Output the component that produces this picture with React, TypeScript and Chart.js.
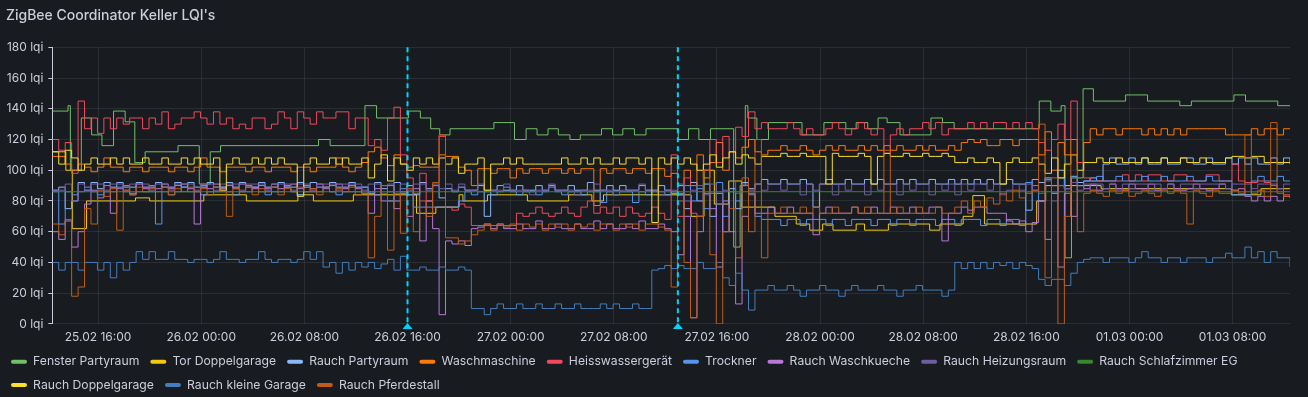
import React, { useEffect, useRef } from "react";
import { Chart, registerables } from "chart.js";

Chart.register(...registerables);

// ---- axis / time data (hours since 25.02 00:00) ----
const rangeStart = 12.45;
const rangeEnd = 108.45;
const gridStep = 0.5;
const xTickHours = [16, 24, 32, 40, 48, 56, 64, 72, 80, 88, 96, 104];
const xTickLabels = [
  "25.02 16:00", "26.02 00:00", "26.02 08:00", "26.02 16:00", "27.02 00:00", "27.02 08:00",
  "27.02 16:00", "28.02 00:00", "28.02 08:00", "28.02 16:00", "01.03 00:00", "01.03 08:00",
];
const annotationHours = [40.0, 60.97];

// ---- step series (change points) ----
const fensterT = [12.45, 13.67, 13.85, 14.7, 15.5, 16.3, 17.2, 18.1, 18.85, 19.65,
  22.2, 23.85, 24.7, 25.5, 33.1, 34.0, 36.7, 37.6, 40.07, 41.0,
  41.8, 42.5, 43.3, 46.7, 48.3, 49.2, 50.05, 50.9, 51.7, 52.6,
  53.4, 55.05, 55.9, 56.7, 57.6, 58.5, 61.0, 61.8, 62.6, 63.5,
  65.3, 65.8, 66.2, 66.4, 67.1, 68.0, 70.6, 72.3, 74.0, 74.8,
  75.7, 76.5, 77.2, 78.2, 80.6, 81.5, 82.4, 89.0, 89.9, 90.7,
  91.0, 91.5, 92.4, 93.2, 95.7, 97.4, 99.9, 100.8, 104.1, 105.0,
  107.5, 108.45];
const fensterV = [138.5, 142, 100, 134, 123, 116, 138.5, 131.5, 105, 112,
  116, 91, 112, 116, 120, 116, 142, 134, 138.5, 134,
  127, 123, 127, 131, 120, 127, 123, 127, 123, 120,
  123, 127, 123, 127, 123, 127, 120, 127, 120, 127,
  50, 90, 142, 134, 120, 131, 123, 131, 127, 131,
  127, 134, 131, 123, 134, 131, 127, 145, 138.5, 142,
  43, 95, 153, 145, 149, 145, 142, 145, 149, 145,
  142, 142];

const torT = [12.45, 13.5, 14.0, 15.1, 18.9, 20.0, 24.2, 27.5, 31.5, 32.7,
  35.8, 40.7, 42.2, 44.0, 44.3, 46.2, 49.3, 52.5, 54.3, 55.2,
  62.0, 63.0, 63.8, 64.9, 65.9, 68.5, 70.15, 71.2, 72.2, 73.0,
  74.8, 75.45, 77.3, 80.5, 81.3, 83.1, 83.85, 84.75, 88.8, 89.5,
  93.8, 103.9, 106.2, 108.45];
const torV = [112, 100, 62, 80, 82, 80, 84, 80, 84, 80,
  84, 72, 76, 84, 80, 84, 80, 84, 80, 84,
  70, 100, 78, 93, 76, 70, 65, 61, 65, 61,
  65, 61, 65, 61, 65, 70, 83.5, 65, 80, 90,
  88, 84, 88, 88];

const schlafT = [12.45, 108.45];
const schlafV = [86, 86];

// ---- dense series, one value per half hour from rangeStart ----
const heisswasser = [
  120, 113, 118, 98, 145, 127, 134, 124, 134, 127, 134, 130, 134, 134, 127, 134,
  130, 138, 127, 130, 134, 134, 138, 134, 130, 138, 130, 134, 127, 130, 127, 134,
  134, 127, 130, 138, 134, 127, 138, 134, 130, 138, 134, 134, 138, 138, 127, 134,
  134, 116, 120, 113, 134, 141, 110, 95, 85, 98, 80, 90, 122, 76, 74, 78,
  76, 64, 64, 64, 64, 64, 64, 64, 72, 70, 72, 76, 72, 70, 72, 76,
  72, 70, 76, 80, 72, 76, 72, 76, 70, 76, 72, 70, 72, 76, 72, 68,
  110, 70, 95, 72, 70, 100, 120, 105, 122, 112, 128, 122, 138, 127, 131, 127,
  127, 127, 131, 127, 123, 127, 123, 123, 127, 131, 127, 123, 127, 131, 127, 123,
  127, 111, 123, 127, 123, 127, 127, 131, 127, 131, 123, 127, 127, 127, 131, 127,
  131, 127, 131, 131, 127, 131, 127, 131, 127, 118, 113, 120, 130, 120, 145, 105,
  95, 93, 93, 93, 93, 93, 97, 93, 97, 93, 97, 97, 93, 93, 97, 97,
  93, 93, 93, 97, 97, 93, 93, 104, 93, 92, 92, 93, 92, 90, 88, 84,
  84,
];
const waschmaschine = [
  109, 109, 104, 100, 104, 102, 99, 102, 108, 102, 102, 99, 102, 102, 99, 102,
  102, 102, 99, 102, 102, 99, 102, 108, 102, 102, 99, 102, 102, 102, 99, 102,
  102, 99, 102, 102, 102, 99, 102, 102, 99, 102, 102, 102, 108, 102, 99, 102,
  105, 112, 115, 108, 103, 110, 104, 102, 103, 102, 102, 102, 110, 109, 109, 102,
  100, 90, 101, 101, 98, 101, 101, 95, 101, 98, 101, 101, 98, 101, 101, 98,
  101, 98, 101, 101, 77, 101, 98, 101, 101, 98, 101, 101, 98, 101, 101, 96,
  98, 85, 100, 90, 110, 95, 105, 118, 100, 112, 108, 115, 120, 112, 110, 113,
  113, 116, 113, 113, 116, 113, 110, 113, 116, 113, 116, 113, 113, 116, 113, 116,
  113, 116, 113, 116, 113, 113, 116, 113, 116, 113, 113, 116, 113, 118, 120, 118,
  120, 116, 116, 120, 120, 116, 120, 120, 120, 110, 125, 100, 118, 110, 120, 105,
  118, 127, 123, 127, 127, 123, 127, 127, 127, 123, 127, 123, 127, 123, 127, 123,
  127, 127, 127, 127, 127, 127, 123, 123, 123, 123, 127, 123, 127, 127, 123, 127,
  127,
];
const rauchDoppelgarage = [
  112, 104, 113, 108, 100, 104, 108, 104, 104, 108, 104, 108, 104, 104, 108, 104,
  104, 108, 104, 104, 108, 104, 108, 104, 104, 108, 87, 104, 108, 104, 104, 108,
  104, 108, 104, 108, 104, 104, 83, 104, 108, 104, 104, 108, 104, 108, 104, 104,
  108, 95, 104, 110, 93, 108, 104, 100, 108, 104, 108, 104, 108, 104, 108, 98,
  104, 104, 108, 87, 104, 104, 108, 104, 108, 104, 104, 104, 104, 104, 104, 108,
  104, 104, 108, 104, 108, 104, 104, 108, 104, 108, 108, 104, 108, 66, 108, 104,
  108, 104, 108, 104, 100, 104, 110, 102, 108, 112, 104, 110, 108, 104, 109, 109,
  109, 111, 109, 109, 111, 109, 109, 109, 91, 111, 109, 109, 109, 111, 109, 91,
  109, 111, 109, 109, 111, 109, 109, 111, 109, 109, 111, 109, 105, 105, 108, 105,
  105, 108, 105, 91, 105, 108, 105, 105, 108, 104, 98, 108, 95, 104, 110, 100,
  105, 105, 108, 105, 105, 108, 105, 105, 105, 108, 105, 105, 108, 105, 105, 108,
  105, 105, 108, 105, 105, 105, 108, 109, 109, 108, 109, 109, 105, 105, 105, 105,
  105,
];
const rauchPartyraum = [
  87, 89, 75, 80, 92, 87, 92, 88, 92, 89, 92, 89, 89, 92, 89, 89,
  92, 89, 89, 92, 89, 92, 89, 89, 92, 89, 89, 92, 89, 92, 89, 89,
  92, 89, 89, 92, 89, 89, 92, 89, 92, 89, 89, 92, 89, 89, 92, 89,
  89, 85, 92, 88, 80, 92, 86, 90, 84, 92, 88, 90, 82, 88, 86, 89,
  87, 87, 90, 70, 87, 90, 87, 87, 90, 87, 87, 90, 87, 90, 87, 87,
  90, 87, 87, 92, 87, 87, 90, 87, 90, 87, 87, 90, 87, 87, 90, 87,
  85, 90, 75, 92, 80, 91, 70, 85, 60, 88, 75, 92, 88, 91, 94, 91,
  91, 94, 91, 91, 94, 91, 76, 91, 94, 91, 91, 94, 91, 91, 94, 91,
  94, 91, 91, 94, 91, 94, 91, 91, 94, 91, 91, 94, 91, 94, 91, 94,
  91, 94, 91, 91, 94, 91, 91, 74, 94, 92, 95, 85, 100, 88, 96, 92,
  93, 95, 93, 104, 108, 104, 104, 108, 104, 108, 104, 104, 108, 104, 104, 108,
  108, 104, 104, 108, 104, 104, 108, 104, 108, 104, 108, 104, 104, 108, 104, 108,
  104,
];
const trockner = [
  86, 65, 86, 84, 86, 89, 86, 84, 86, 86, 89, 86, 84, 86, 86, 86,
  65, 86, 84, 86, 89, 86, 86, 84, 86, 86, 89, 86, 84, 86, 86, 89,
  86, 84, 86, 86, 89, 86, 84, 86, 86, 86, 89, 86, 84, 86, 86, 86,
  89, 86, 84, 90, 86, 80, 88, 84, 76, 76, 76, 76, 76, 76, 76, 80,
  86, 84, 86, 86, 84, 86, 89, 86, 84, 86, 86, 84, 86, 89, 86, 84,
  86, 86, 84, 86, 86, 79, 86, 84, 86, 86, 79, 86, 84, 86, 86, 84,
  86, 84, 90, 80, 88, 75, 85, 92, 70, 86, 80, 90, 84, 70, 68, 68,
  68, 64, 68, 68, 64, 68, 68, 68, 64, 68, 68, 64, 68, 68, 68, 64,
  68, 68, 64, 68, 68, 64, 68, 68, 68, 64, 68, 68, 64, 68, 68, 68,
  64, 68, 68, 64, 68, 68, 64, 92, 90, 80, 94, 85, 95, 88, 96, 90,
  93, 93, 96, 93, 93, 96, 93, 93, 93, 96, 93, 93, 96, 93, 93, 93,
  96, 93, 93, 96, 93, 93, 93, 84, 84, 84, 93, 96, 93, 93, 96, 93,
  93,
];
const rauchWaschkueche = [
  60, 55, 67, 50, 60, 78, 87, 82, 90, 72, 88, 90, 85, 91, 88, 90,
  88, 91, 88, 90, 91, 88, 65, 90, 88, 91, 88, 90, 88, 91, 90, 88,
  90, 88, 91, 88, 90, 91, 88, 90, 88, 91, 88, 90, 91, 88, 90, 88,
  85, 72, 88, 80, 90, 75, 85, 70, 88, 54, 80, 62, 6, 54, 52, 54,
  51, 62, 63, 65, 62, 65, 62, 62, 65, 62, 62, 67, 62, 62, 65, 62,
  62, 65, 62, 62, 67, 62, 65, 62, 62, 65, 62, 67, 62, 62, 65, 62,
  60, 45, 70, 4, 60, 85, 75, 37, 80, 60, 13, 70, 85, 72, 72, 76,
  72, 72, 76, 72, 72, 72, 58, 72, 76, 72, 72, 72, 76, 72, 72, 76,
  72, 72, 76, 72, 72, 76, 72, 72, 76, 76, 54, 72, 72, 76, 74, 76,
  76, 72, 72, 72, 67, 65, 67, 60, 66, 80, 55, 90, 37, 85, 70, 90,
  88, 91, 87, 88, 91, 88, 87, 91, 88, 88, 91, 87, 88, 91, 88, 87,
  88, 91, 88, 87, 88, 91, 88, 87, 88, 83, 80, 83, 80, 83, 80, 83,
  82,
];
const rauchHeizungsraum = [
  87, 87, 91, 80, 91, 87, 91, 91, 87, 91, 91, 87, 91, 91, 91, 87,
  91, 91, 87, 91, 91, 91, 87, 91, 91, 87, 91, 91, 91, 87, 91, 91,
  91, 87, 91, 91, 91, 87, 91, 91, 87, 91, 91, 91, 87, 91, 91, 91,
  87, 91, 91, 85, 91, 80, 91, 87, 91, 91, 87, 91, 88, 91, 87, 91,
  87, 87, 91, 87, 87, 87, 91, 87, 87, 87, 84, 87, 87, 91, 87, 87,
  87, 84, 87, 87, 91, 87, 87, 84, 87, 87, 87, 91, 87, 87, 84, 87,
  87, 91, 80, 87, 90, 84, 91, 78, 87, 93, 85, 91, 87, 91, 87, 91,
  91, 87, 91, 91, 84, 91, 87, 91, 91, 84, 91, 87, 91, 91, 84, 91,
  87, 91, 91, 84, 91, 87, 91, 91, 84, 91, 87, 91, 84, 91, 87, 91,
  91, 87, 91, 84, 87, 91, 87, 91, 87, 85, 93, 80, 90, 88, 92, 87,
  91, 87, 91, 88, 91, 87, 91, 88, 91, 91, 87, 91, 88, 91, 87, 91,
  91, 88, 91, 91, 91, 91, 88, 91, 91, 91, 88, 91, 91, 91, 88, 91,
  91,
];
const kleineGarage = [
  40, 35, 40, 40, 35, 40, 40, 35, 40, 30, 40, 35, 40, 47, 42, 47,
  42, 42, 47, 42, 42, 40, 42, 42, 40, 42, 47, 42, 42, 40, 42, 42,
  47, 42, 40, 42, 42, 40, 42, 47, 42, 47, 37, 40, 33, 40, 35, 40,
  37, 40, 36, 39, 42, 35, 44, 35, 35, 37, 35, 35, 37, 35, 35, 37,
  35, 10, 10, 6, 10, 13, 10, 10, 13, 10, 10, 13, 10, 10, 13, 10,
  10, 13, 10, 10, 10, 13, 10, 13, 10, 10, 13, 10, 10, 35, 36, 38,
  36, 38, 36, 36, 40, 36, 36, 40, 30, 25, 33, 22, 9, 22, 22, 25,
  22, 22, 25, 22, 18, 22, 22, 25, 22, 22, 18, 22, 25, 22, 22, 22,
  25, 22, 22, 18, 22, 22, 25, 22, 22, 22, 18, 22, 40, 36, 40, 36,
  40, 36, 40, 38, 40, 36, 40, 38, 36, 29, 25, 29, 29, 25, 33, 40,
  42, 43, 43, 40, 43, 43, 43, 40, 43, 47, 43, 43, 40, 43, 43, 40,
  43, 43, 43, 40, 43, 43, 46, 43, 43, 50, 43, 47, 40, 47, 43, 43,
  37,
];
const pferdestall = [
  65, 58, 68, 18, 24, 75, 65, 87, 83, 88, 61, 87, 84, 89, 86, 88,
  86, 89, 84, 88, 86, 89, 86, 88, 84, 89, 86, 70, 88, 86, 89, 84,
  88, 86, 89, 84, 88, 86, 89, 86, 88, 84, 89, 86, 88, 86, 89, 84,
  85, 43, 70, 90, 48, 85, 59, 88, 60, 80, 70, 92, 123, 56, 56, 52,
  54, 58, 61, 65, 61, 65, 63, 65, 61, 65, 63, 65, 61, 65, 63, 65,
  61, 65, 63, 65, 61, 65, 65, 61, 65, 63, 65, 61, 65, 65, 63, 61,
  24, 80, 40, 4, 70, 100, 45, 0, 60, 75, 43, 95, 60, 120, 43, 72,
  72, 76, 72, 72, 76, 72, 76, 72, 72, 76, 72, 72, 76, 72, 76, 72,
  72, 113, 72, 76, 72, 72, 76, 72, 72, 76, 72, 72, 76, 80, 72, 80,
  76, 82, 78, 85, 80, 87, 82, 85, 87, 130, 30, 95, 0, 70, 110, 60,
  85, 87, 85, 83, 87, 85, 87, 83, 85, 87, 85, 83, 87, 85, 87, 85,
  65, 87, 85, 83, 87, 85, 85, 87, 85, 123, 85, 87, 83, 131, 85, 83,
  82,
];

const seriesLabels = [
  "Fenster Partyraum", "Tor Doppelgarage", "Rauch Partyraum", "Waschmaschine",
  "Heisswassergerät", "Trockner", "Rauch Waschkueche", "Rauch Heizungsraum",
  "Rauch Schlafzimmer EG", "Rauch Doppelgarage", "Rauch kleine Garage", "Rauch Pferdestall",
];
const seriesColors = [
  "#73BF69", "#F2CC0C", "#8AB8FF", "#FF780A", "#F2495C", "#5794F2",
  "#B877D9", "#705DA0", "#37872D", "#FADE2A", "#447EBC", "#C15C17",
];

const TEXT = "#ccccdc";
const GRID = "rgba(204,204,220,0.1)";
const BG = "#181b1f";
const ANNOT = "#00d3ff";

function pairs(t: number[], v: number[]) {
  return t.map((x, i) => ({ x, y: v[i] }));
}
function dense(v: number[]) {
  return v.map((y, i) => ({ x: rangeStart + i * gridStep, y }));
}

const annotationPlugin = {
  id: "annotLines",
  afterDatasetsDraw(chart: any) {
    const { ctx, chartArea, scales } = chart;
    ctx.save();
    ctx.strokeStyle = ANNOT;
    ctx.fillStyle = ANNOT;
    annotationHours.forEach((h) => {
      const x = scales.x.getPixelForValue(h);
      ctx.lineWidth = 2;
      ctx.setLineDash([5, 4]);
      ctx.beginPath();
      ctx.moveTo(x, chartArea.top);
      ctx.lineTo(x, chartArea.bottom);
      ctx.stroke();
      ctx.setLineDash([]);
      ctx.beginPath();
      ctx.moveTo(x, chartArea.bottom - 1);
      ctx.lineTo(x + 5, chartArea.bottom + 5);
      ctx.lineTo(x - 5, chartArea.bottom + 5);
      ctx.closePath();
      ctx.fill();
    });
    ctx.restore();
  },
};

export default function App() {
  const ref = useRef<HTMLCanvasElement>(null);

  useEffect(() => {
    document.body.style.margin = "0";
    document.body.style.background = BG;
    const canvas = ref.current;
    if (!canvas) return;

    const dataList = [
      pairs(fensterT, fensterV),
      pairs(torT, torV),
      dense(rauchPartyraum),
      dense(waschmaschine),
      dense(heisswasser),
      dense(trockner),
      dense(rauchWaschkueche),
      dense(rauchHeizungsraum),
      pairs(schlafT, schlafV),
      dense(rauchDoppelgarage),
      dense(kleineGarage),
      dense(pferdestall),
    ];

    const datasets = seriesLabels.map((label, i) => ({
      label,
      data: dataList[i],
      borderColor: seriesColors[i],
      backgroundColor: seriesColors[i],
      borderWidth: 1,
      pointRadius: 0,
      pointHoverRadius: 0,
      stepped: true,
      fill: false,
      order: -i,
    }));

    const font = { family: "Inter, sans-serif", size: 12 };

    const chart = new Chart(canvas, {
      type: "line",
      data: { datasets } as any,
      plugins: [annotationPlugin],
      options: {
        animation: false,
        responsive: false,
        events: [],
        layout: { padding: { left: 0, right: 18, top: 47.3, bottom: 0 } },
        plugins: {
          legend: {
            position: "bottom",
            align: "start",
            labels: {
              color: TEXT,
              font: { family: "Inter, sans-serif", size: 12.2 },
              boxWidth: 16,
              boxHeight: 4,
              padding: 11,
              useBorderRadius: true,
              borderRadius: 2,
              sort: (a: any, b: any) => a.datasetIndex - b.datasetIndex,
              generateLabels: (c: any) =>
                (Chart.defaults.plugins.legend.labels as any)
                  .generateLabels(c)
                  .map((l: any) => ({ ...l, lineWidth: 0, fontColor: TEXT })),
            },
          },
          tooltip: { enabled: false },
        },
        scales: {
          x: {
            type: "linear",
            min: rangeStart,
            max: rangeEnd,
            afterBuildTicks: (s: any) => {
              s.ticks = xTickHours.map((value) => ({ value }));
            },
            afterFit: (s: any) => {
              s.height = 20.7;
            },
            ticks: {
              color: TEXT,
              font,
              padding: 6,
              maxRotation: 0,
              autoSkip: false,
              callback: (v: any) => xTickLabels[xTickHours.indexOf(Number(v))] ?? "",
            },
            grid: { color: GRID, drawTicks: false },
            border: { display: false },
          },
          y: {
            min: 0,
            max: 180,
            afterFit: (s: any) => {
              s.width = 52.3;
            },
            ticks: {
              stepSize: 20,
              color: TEXT,
              font,
              padding: 5,
              callback: (v: any) => `${v} lqi`,
            },
            grid: { color: GRID, tickLength: 4, tickColor: TEXT },
            border: { display: true, color: TEXT, width: 1 },
          },
        },
      } as any,
    });

    return () => chart.destroy();
  }, []);

  return (
    <div
      style={{
        position: "relative",
        width: 1308,
        height: 397,
        overflow: "hidden",
        background: BG,
      }}
    >
      <canvas
        ref={ref}
        width={1308}
        height={401}
        style={{ position: "absolute", left: 0, top: 0, width: 1308, height: 401 }}
      />
      <div
        style={{
          position: "absolute",
          left: 6,
          top: 7,
          color: TEXT,
          fontFamily: "Inter, sans-serif",
          fontSize: 14,
          fontWeight: 500,
          lineHeight: "16px",
          whiteSpace: "nowrap",
        }}
      >
        ZigBee Coordinator Keller LQI's
      </div>
    </div>
  );
}
